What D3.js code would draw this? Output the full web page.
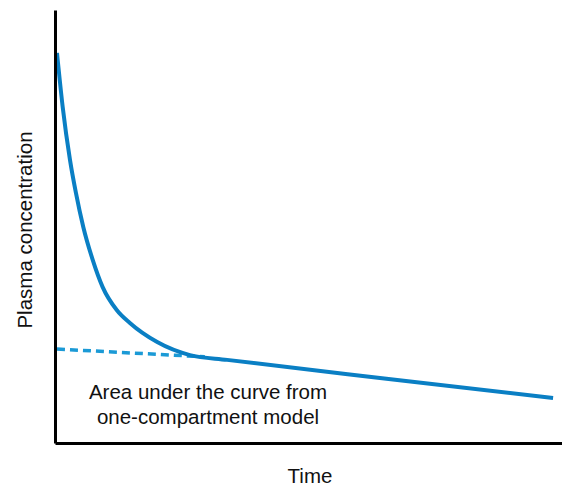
<!DOCTYPE html>
<html>
<head>
<meta charset="utf-8">
<script src="https://cdn.jsdelivr.net/npm/d3@7"></script>
<style>
  html, body { margin: 0; padding: 0; background: #fff; }
  svg { display: block; font-family: "Liberation Sans", Arial, Helvetica, sans-serif; }
</style>
</head>
<body>
<svg id="chart" width="562" height="487"></svg>
<script>
// Two-compartment plasma concentration curve (arbitrary units)
const timePoints = [0, 1.15, 2.62, 3.83, 5.30, 7.20, 9.21, 12.04, 14.7, 20.2, 26.8, 34.3, 65.1, 100];
const concentration = [90.1, 77.6, 65.4, 57.7, 49.9, 42.3, 36.0, 30.7, 27.7, 23.3, 20.3, 19.2, 15.0, 10.4];

// Back-extrapolated terminal phase (one-compartment model)
const extrapTime = [0, 29.8];
const extrapConc = [21.7, 19.9];

const xLabel = "Time";
const yLabel = "Plasma concentration";
const areaNote = ["Area under the curve from", "one-compartment model"];

const svg = d3.select("#chart");

const x = d3.scaleLinear().domain([-0.4, 101.8]).range([55, 562]);
const y = d3.scaleLinear().domain([0, 100]).range([443, 10]);

const curve = timePoints.map((t, i) => ({ t, c: concentration[i] }));
const extrap = extrapTime.map((t, i) => ({ t, c: extrapConc[i] }));

const line = d3.line()
  .x(d => x(d.t))
  .y(d => y(d.c))
  .curve(d3.curveMonotoneX);

// dashed extrapolation sits beneath the measured curve
svg.append("path")
  .datum(extrap)
  .attr("d", d3.line().x(d => x(d.t)).y(d => y(d.c)))
  .attr("fill", "none")
  .attr("stroke", "#1b9ad6")
  .attr("stroke-width", 3.5)
  .attr("stroke-dasharray", "8,5");

svg.append("path")
  .datum(curve)
  .attr("d", line)
  .attr("fill", "none")
  .attr("stroke", "#0a7fc4")
  .attr("stroke-width", 4)
  .attr("stroke-linejoin", "round");

// axes: bare lines, no ticks
const xAxis = svg.append("g")
  .attr("transform", `translate(0,${y(0)})`)
  .call(d3.axisBottom(x).ticks(0).tickSizeOuter(0));
const yAxis = svg.append("g")
  .attr("transform", `translate(${x.range()[0]},0)`)
  .call(d3.axisLeft(y).ticks(0).tickSizeOuter(0));
[xAxis, yAxis].forEach(g => {
  g.select(".domain").attr("stroke", "#000").attr("stroke-width", 3);
  g.selectAll(".tick").remove();
});

svg.append("text")
  .attr("x", 310)
  .attr("y", 483)
  .attr("text-anchor", "middle")
  .attr("font-size", 20.5)
  .attr("fill", "#111")
  .text(xLabel);

svg.append("text")
  .attr("transform", `translate(32,${230}) rotate(-90)`)
  .attr("text-anchor", "middle")
  .attr("font-size", 20.5)
  .attr("fill", "#111")
  .text(yLabel);

const note = svg.append("text")
  .attr("text-anchor", "middle")
  .attr("font-size", 20.5)
  .attr("fill", "#111");
areaNote.forEach((s, i) => {
  note.append("tspan")
    .attr("x", 208)
    .attr("y", 399 + i * 25)
    .text(s);
});
</script>
</body>
</html>
